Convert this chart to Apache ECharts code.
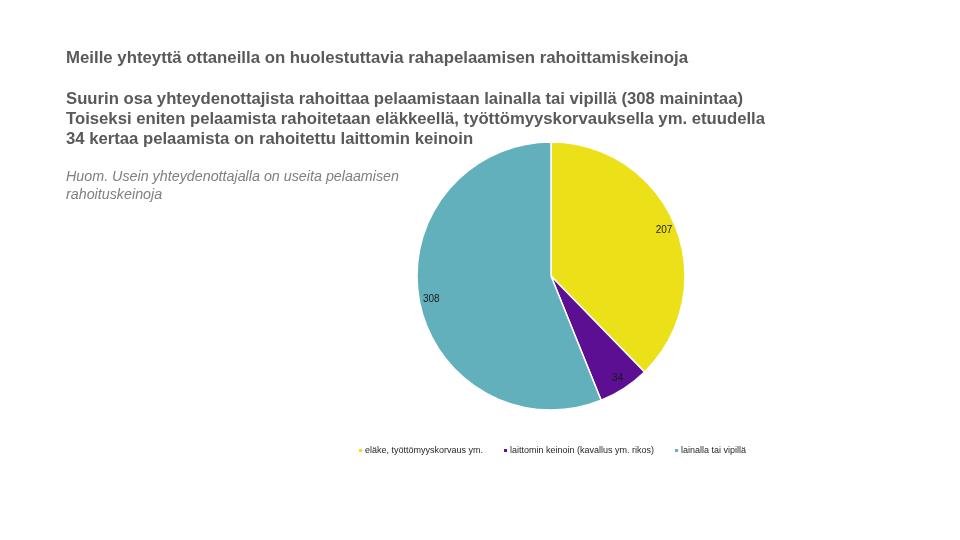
<!DOCTYPE html>
<html>
<head>
<meta charset="utf-8">
<script src="https://cdn.jsdelivr.net/npm/echarts@6/dist/echarts.min.js"></script>
<style>html,body{margin:0;padding:0;background:#fff;}#c{width:960px;height:540px;}</style>
</head>
<body>
<div id="c"></div>
<script>
var categories = ['eläke, työttömyyskorvaus ym.', 'laittomin keinoin (kavallus ym. rikos)', 'lainalla tai vipillä'];
var values = [207, 34, 308];
var colors = ['#ECE018', '#5C0F92', '#63B0BD'];
var titleText = 'Meille yhteyttä ottaneilla on huolestuttavia rahapelaamisen rahoittamiskeinoja';
var subtitleLines = [
  'Suurin osa yhteydenottajista rahoittaa pelaamistaan lainalla tai vipillä (308 mainintaa)',
  'Toiseksi eniten pelaamista rahoitetaan eläkkeellä, työttömyyskorvauksella ym. etuudella',
  '34 kertaa pelaamista on rahoitettu laittomin keinoin'
];
var noteLines = ['Huom. Usein yhteydenottajalla on useita pelaamisen', 'rahoituskeinoja'];

var data = categories.map(function (c, i) {
  return { name: c, value: values[i], itemStyle: { color: colors[i] } };
});

var chart = echarts.init(document.getElementById('c'), null, { renderer: 'canvas' });
chart.setOption({
  backgroundColor: '#ffffff',
  animation: false,
  title: [
    { text: titleText, left: 66, top: 50, padding: 0,
      textStyle: { fontFamily: 'Liberation Sans, Arial, sans-serif', fontSize: 16.8, fontWeight: 'bold', color: '#595959' } },
    { text: subtitleLines.join('\n'), left: 66, top: 89, padding: 0,
      textStyle: { fontFamily: 'Liberation Sans, Arial, sans-serif', fontSize: 16.7, fontWeight: 'bold', color: '#595959', lineHeight: 20 } },
    { text: noteLines.join('\n'), left: 66, top: 168, padding: 0,
      textStyle: { fontFamily: 'Liberation Sans, Arial, sans-serif', fontSize: 14.3, fontWeight: 'normal', fontStyle: 'italic', color: '#7F7F7F', lineHeight: 18 } }
  ],
  legend: {
    data: categories,
    left: 357, top: 446, padding: 0,
    icon: 'rect', itemWidth: 5, itemHeight: 5, itemGap: 19,
    textStyle: { fontFamily: 'Liberation Sans, Arial, sans-serif', fontSize: 9, color: '#262626', padding: [0, 0, 0, -3] }
  },
  series: [
    {
      type: 'pie',
      center: [551, 276],
      radius: [0, 134],
      startAngle: 90,
      clockwise: true,
      data: data,
      itemStyle: { borderColor: '#ffffff', borderWidth: 1.5 },
      label: { show: false },
      labelLine: { show: false },
      emphasis: { disabled: true }
    },
    {
      type: 'pie',
      center: [551, 276],
      radius: [104, 134],
      startAngle: 90,
      clockwise: true,
      silent: true,
      data: categories.map(function (c, i) { return { name: c + ' ', value: values[i] }; }),
      itemStyle: { color: 'rgba(0,0,0,0)' },
      label: { show: true, position: 'inside', formatter: '{c}',
        fontFamily: 'Liberation Sans, Arial, sans-serif', fontSize: 10, color: '#1a1a1a' },
      labelLine: { show: false },
      emphasis: { disabled: true }
    }
  ]
});
</script>
</body>
</html>
